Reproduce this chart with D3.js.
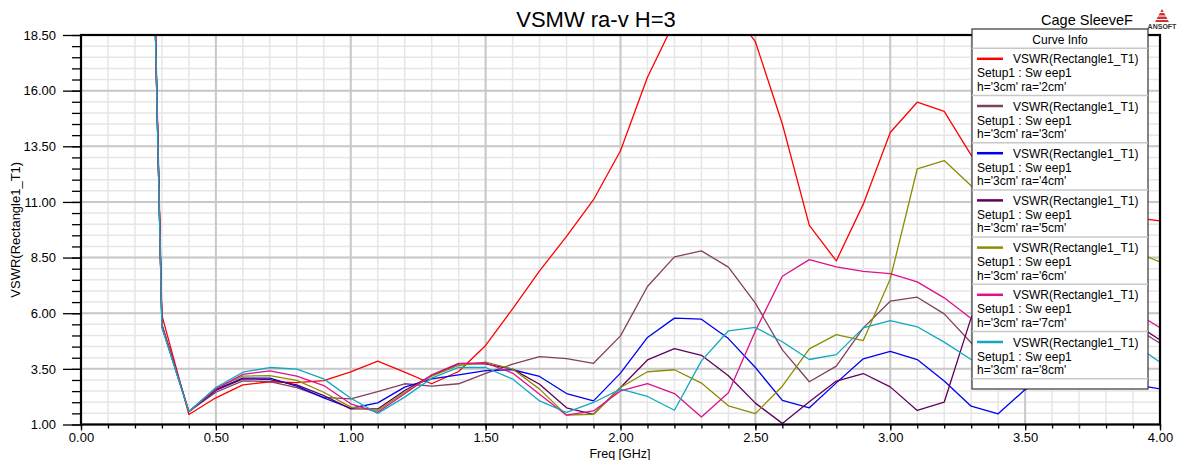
<!DOCTYPE html>
<html><head><meta charset="utf-8">
<script src="https://cdn.jsdelivr.net/npm/d3@7/dist/d3.min.js"></script>
<style>
html,body{margin:0;padding:0;background:#fff;}
svg{display:block;font-family:"Liberation Sans",Arial,sans-serif;}
</style></head>
<body>
<svg id="chart" width="1177" height="460"></svg>
<script>
// ---------- data ----------
const freq = [0.2,0.3,0.4,0.5,0.6,0.7,0.8,0.9,1.0,1.1,1.2,1.3,1.4,1.5,1.6,1.7,1.8,1.9,2.0,2.1,2.2,2.3,2.4,2.5,2.6,2.7,2.8,2.9,3.0,3.1,3.2,3.3,3.4,3.5,3.6,3.7,3.8,3.9,4.0];
const vswrRa2 = [60,5.9,1.45,2.2,2.78,2.92,2.88,2.97,3.36, 3.85,3.35,2.83,3.38,4.55,6.2,7.9,9.45,11.1,13.3, 16.6,19.1,20.4,19.8,18.2,14.5,9.95,8.35,10.9,14.12, 15.48,15.07,13.1,11.9,11.2,10.8,10.6,10.45,10.3,10.15];
const vswrRa3 = [60,5.45,1.58,2.45,2.96,2.93,2.66,2.22,2.15, 2.48,2.83,2.72,2.83,3.3,3.71,4.05,3.96,3.75,4.98, 7.2,8.53,8.8,8.07,6.45,4.35,2.92,3.62,5.34,6.54, 6.72,5.97,4.67,3.4,2.55,3.4,4.2,4.8,5.4,4.65];
const vswrRa4 = [60,5.5,1.58,2.57,3.08,3.08,2.72,2.2,1.73, 1.97,2.68,3.05,3.23,3.42,3.46,3.16,2.39,2.06,3.31, 4.91,5.78,5.73,4.86,3.56,2.08,1.75,2.87,3.95,4.29, 3.92,2.95,1.82,1.48,2.57,3.2,3.5,3.3,2.8,2.6];
const vswrRa5 = [60,5.4,1.58,2.53,3.05,3.02,2.78,2.3,1.7, 1.7,2.53,3.2,3.72,3.72,3.49,2.81,1.75,1.46,2.66, 3.9,4.41,4.11,3.19,1.96,1.05,2.02,2.95,3.29,2.69, 1.63,2.0,5.8,8.0,9.0,8.5,7.5,6.5,5.6,4.8];
const vswrRa6 = [60,5.45,1.58,2.63,3.17,3.2,2.98,2.45,1.78, 1.63,2.45,3.17,3.65,3.8,3.49,2.59,1.42,1.46,2.66, 3.37,3.46,2.86,1.84,1.49,2.72,4.4,5.04,4.77,7.54, 12.48,12.86,11.73,10.8,10.0,9.6,9.4,9.2,8.8,8.3];
const vswrRa7 = [60,5.45,1.58,2.6,3.25,3.41,3.17,2.75,1.93, 1.55,2.38,3.23,3.75,3.77,3.31,2.36,1.42,1.61,2.51, 2.84,2.39,1.34,2.43,5.2,7.66,8.41,8.08,7.88,7.78, 7.41,6.69,5.76,5.0,4.7,5.0,5.6,6.0,6.1,5.35];
const vswrRa8 = [60,5.35,1.58,2.66,3.35,3.56,3.49,3.05,2.18, 1.5,2.23,3.08,3.57,3.56,3.04,2.06,1.54,1.99,2.59, 2.26,1.64,3.86,5.21,5.36,4.72,3.92,4.14,5.34,5.67, 5.39,4.7,3.92,3.3,3.1,3.4,3.9,4.4,4.65,3.8];

const seriesValues = [vswrRa2, vswrRa3, vswrRa4, vswrRa5, vswrRa6, vswrRa7, vswrRa8];
const seriesParams = ["h='3cm' ra='2cm'","h='3cm' ra='3cm'","h='3cm' ra='4cm'","h='3cm' ra='5cm'","h='3cm' ra='6cm'","h='3cm' ra='7cm'","h='3cm' ra='8cm'"];
const seriesColors = ["#ff0000","#804060","#0000f0","#600060","#8c8c00","#e0108c","#10a8c0"];
const traceName = "VSWR(Rectangle1_T1)";
const setupName = "Setup1 : Sw eep1";

const xTicks = [0,0.5,1.0,1.5,2.0,2.5,3.0,3.5,4.0];
const yTicks = [1.0,3.5,6.0,8.5,11.0,13.5,16.0,18.5];
const xMinor = d3.range(0, 40.5, 1).map(d => d/10);
const yMinor = d3.range(2, 37.5, 1).map(d => d/2);

const titleText = "VSMW ra-v H=3";
const designText = "Cage SleeveF";
const xLabel = "Freq [GHz]";
const yLabel = "VSWR(Rectangle1_T1)";

// ---------- layout ----------
const L = 81, R = 1160, T = 35, B = 424.5;
const svg = d3.select("#chart");
const x = d3.scaleLinear().domain([0,4]).range([L,R]);
const y = d3.scaleLinear().domain([1,18.5]).range([B,T]);

// grid
const grid = svg.append("g");
grid.selectAll(".vmin").data(xMinor).join("line")
  .attr("x1", d=>x(d)).attr("x2", d=>x(d)).attr("y1", T).attr("y2", B)
  .attr("stroke", "#e6e6e6").attr("stroke-width", 1.5);
grid.selectAll(".hmin").data(yMinor).join("line")
  .attr("y1", d=>y(d)).attr("y2", d=>y(d)).attr("x1", L).attr("x2", R)
  .attr("stroke", "#e6e6e6").attr("stroke-width", 1.5);
grid.selectAll(".vmaj").data(xTicks).join("line")
  .attr("x1", d=>x(d)).attr("x2", d=>x(d)).attr("y1", T).attr("y2", B)
  .attr("stroke", "#c8c8c8").attr("stroke-width", 2);
grid.selectAll(".hmaj").data(yTicks).join("line")
  .attr("y1", d=>y(d)).attr("y2", d=>y(d)).attr("x1", L).attr("x2", R)
  .attr("stroke", "#c8c8c8").attr("stroke-width", 2);

// axes
const fmt = d3.format(".2f");
const yMinorAxis = svg.append("g").attr("transform", `translate(${L},0)`)
  .call(d3.axisLeft(y).tickValues(yMinor).tickSize(9).tickFormat(""));
const yAxis = svg.append("g").attr("transform", `translate(${L},0)`)
  .call(d3.axisLeft(y).tickValues(yTicks).tickSize(18).tickPadding(7).tickFormat(fmt));
const xMinorAxis = svg.append("g").attr("transform", `translate(0,${B})`)
  .call(d3.axisBottom(x).tickValues(xMinor).tickSize(4).tickFormat(""));
const xAxis = svg.append("g").attr("transform", `translate(0,${B})`)
  .call(d3.axisBottom(x).tickValues(xTicks).tickSize(6).tickPadding(2).tickFormat(fmt));
[yMinorAxis, yAxis, xMinorAxis, xAxis].forEach(g => {
  g.select(".domain").remove();
  g.selectAll(".tick line").attr("stroke", "#000").attr("stroke-width", 1.3);
  g.selectAll("text").attr("font-size", 13).attr("fill", "#000")
    .attr("font-family", "'Liberation Sans', Arial, sans-serif");
});

// clip
svg.append("clipPath").attr("id","plotclip").append("rect")
  .attr("x", L).attr("y", T).attr("width", R-L).attr("height", B-T);

const line = d3.line().x((d,i)=>x(freq[i])).y(d=>y(d));
svg.append("g").attr("clip-path","url(#plotclip)")
  .selectAll("path").data(seriesValues).join("path")
  .attr("d", d=>line(d)).attr("fill","none")
  .attr("stroke", (d,i)=>seriesColors[i]).attr("stroke-width", 1.3)
  .attr("stroke-linejoin","round");

// frame
svg.append("rect").attr("x", L).attr("y", T).attr("width", R-L).attr("height", B-T)
  .attr("fill","none").attr("stroke","#000").attr("stroke-width", 2.2);

// titles
svg.append("text").attr("x", 596).attr("y", 27).attr("text-anchor","middle")
  .attr("font-size", 22).text(titleText);
svg.append("text").attr("x", 1087).attr("y", 25).attr("text-anchor","middle")
  .attr("font-size", 14.5).text(designText);
svg.append("text").attr("x", 620).attr("y", 458).attr("text-anchor","middle")
  .attr("font-size", 12.5).text(xLabel);
svg.append("text").attr("transform", `translate(20,${(T+B)/2}) rotate(-90)`)
  .attr("text-anchor","middle").attr("font-size", 13).text(yLabel);

// ANSOFT logo
const logo = svg.append("g").attr("transform","translate(1162,9)");
logo.append("path").attr("d","M0,0 L-7,13 L7,13 Z").attr("fill","#d03030");
[3.5,7,10.5].forEach(v => logo.append("line").attr("x1",-8).attr("x2",8).attr("y1",v).attr("y2",v)
  .attr("stroke","#fff").attr("stroke-width",1));
logo.append("text").attr("x",0).attr("y",20).attr("text-anchor","middle")
  .attr("font-size",7).attr("font-weight","bold").attr("fill","#333").text("ANSOFT");

// legend
const LX = 972, LY = 29, LW = 176, LH = 360, headH = 19.3, rowH = 47.2;
const leg = svg.append("g");
leg.append("rect").attr("x", LX).attr("y", LY).attr("width", LW).attr("height", LH)
  .attr("fill","#fff").attr("stroke","#333").attr("stroke-width",1.2);
leg.append("text").attr("x", LX + LW/2).attr("y", LY + 14.5).attr("text-anchor","middle")
  .attr("font-size", 12).text("Curve Info");
const rows = leg.selectAll("g.row").data(seriesParams).join("g")
  .attr("transform", (d,i)=>`translate(${LX},${LY + headH + i*rowH})`);
rows.append("line").attr("x1",0).attr("x2",LW).attr("y1",0).attr("y2",0)
  .attr("stroke","#c8c8c8").attr("stroke-width",1.5);
rows.append("line").attr("x1",5).attr("x2",31).attr("y1",10.5).attr("y2",10.5)
  .attr("stroke",(d,i)=>seriesColors[i]).attr("stroke-width",2.5);
rows.append("text").attr("x",41).attr("y",15).attr("font-size",12).text(traceName);
rows.append("text").attr("x",5).attr("y",29).attr("font-size",12).text(setupName);
rows.append("text").attr("x",5).attr("y",42.5).attr("font-size",12).text(d=>d);
leg.append("line").attr("x1",LX).attr("x2",LX+LW)
  .attr("y1", LY + headH + seriesParams.length*rowH).attr("y2", LY + headH + seriesParams.length*rowH)
  .attr("stroke","#c8c8c8").attr("stroke-width",1.5);
</script>
</body></html>
